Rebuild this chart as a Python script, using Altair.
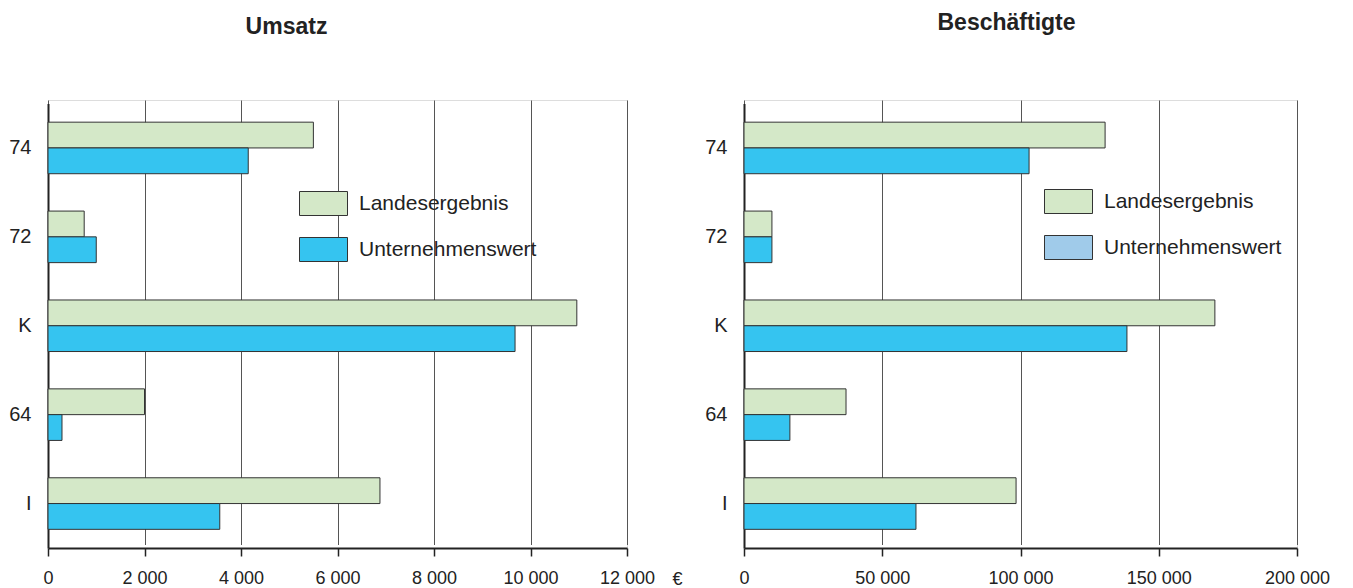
import altair as alt
import pandas as pd

categories = ["74", "72", "K", "64", "I"]
series = ["Landesergebnis", "Unternehmenswert"]

umsatz_landes = [5500, 750, 10960, 2000, 6880]
umsatz_unternehmen = [4150, 1000, 9680, 290, 3560]

besch_landes = [130600, 10100, 170300, 36900, 98400]
besch_unternehmen = [103100, 10100, 138500, 16600, 62200]

umsatz_ticks = [0, 2000, 4000, 6000, 8000, 10000, 12000]
besch_ticks = [0, 50000, 100000, 150000, 200000]

FONT = "Liberation Sans"
INK = "#222222"


def make_df(landes, unternehmen):
    rows = []
    for c, a, b in zip(categories, landes, unternehmen):
        rows.append({"Kategorie": c, "Serie": series[0], "Wert": a})
        rows.append({"Kategorie": c, "Serie": series[1], "Wert": b})
    return pd.DataFrame(rows)


def panel(df, ticks, width, title, title_dx, title_offset, legend_x, legend_y,
          bar_colors, legend_colors, euro):
    xmax = ticks[-1]
    y = alt.Y(
        "Kategorie:N", sort=categories, title=None,
        scale=alt.Scale(paddingInner=0.42, paddingOuter=0.21, range=[3.5, 448]),
        axis=alt.Axis(ticks=False, domain=True, domainColor=INK, domainWidth=2,
                      labelFont=FONT, labelFontSize=20, labelColor=INK,
                      labelPadding=17, grid=False),
    )
    axis_kw = dict(
        values=ticks, grid=True, gridColor="#555555", gridWidth=1,
        domainColor=INK, domainWidth=2, tickColor=INK, tickSize=8, tickWidth=1.5,
        labelFont=FONT, labelFontSize=18, labelColor=INK, labelPadding=13,
        labelFlush=False,
        labelExpr="replace(format(datum.value, ','), ',', ' ')",
    )
    if euro:
        axis_kw.update(titleFont=FONT, titleFontSize=18, titleFontWeight="normal",
                       titleColor=INK, titleAngle=0, titleX=width + 45, titleY=22,
                       titleAlign="left", titleBaseline="top")
    x = alt.X("Wert:Q", scale=alt.Scale(domain=[0, xmax], nice=False),
              title="€" if euro else None, axis=alt.Axis(**axis_kw))
    yoff = alt.YOffset("Serie:N", sort=series, scale=alt.Scale(paddingInner=0, paddingOuter=0))

    legend = alt.Legend(
        orient="none", legendX=legend_x, legendY=legend_y, title=None,
        symbolType="M-1,-0.5H1V0.5H-1Z", symbolSize=2304,
        symbolStrokeColor="#333333", symbolStrokeWidth=1,
        labelFont=FONT, labelFontSize=21, labelColor=INK, labelOffset=11,
        labelLimit=400, rowPadding=7,
    )

    same = legend_colors == bar_colors
    bars = alt.Chart(df).mark_bar(stroke="#333333", strokeWidth=1).encode(
        x=x, y=y, yOffset=yoff,
        color=alt.Color("Serie:N", scale=alt.Scale(domain=series, range=bar_colors),
                        legend=legend if same else None),
    )
    if same:
        chart = bars
    else:
        leg = alt.Chart(df).mark_bar(stroke="#333333", strokeWidth=1).transform_filter(
            "datum.Wert < 0"
        ).encode(
            x=x, y=y, yOffset=yoff,
            color=alt.Color("Serie:N", scale=alt.Scale(domain=series, range=legend_colors),
                            legend=legend),
        )
        chart = alt.layer(bars, leg).resolve_scale(color="independent")
    return chart.properties(
        width=width, height=448,
        title=alt.TitleParams(title, font=FONT, fontSize=23, fontWeight="bold",
                              color=INK, anchor="middle", dx=title_dx, offset=title_offset),
    )


GREEN = "#d4e8c8"
CYAN = "#35c4f0"
LIGHTBLUE = "#a0cbea"

left = panel(make_df(umsatz_landes, umsatz_unternehmen), umsatz_ticks, 579, "Umsatz",
             -51, 61, 251, 79, [GREEN, CYAN], [GREEN, CYAN], True)
right = panel(make_df(besch_landes, besch_unternehmen), besch_ticks, 553, "Beschäftigte",
              -14, 65, 300, 77, [GREEN, CYAN], [GREEN, LIGHTBLUE], False)

chart = alt.hconcat(left, right, spacing=21).properties(
    padding={"left": 0, "top": 3, "right": 0, "bottom": 0}
).configure_view(stroke=None).configure(background="white")

chart.save("out.html", embed_options={"renderer": "svg", "actions": False})
